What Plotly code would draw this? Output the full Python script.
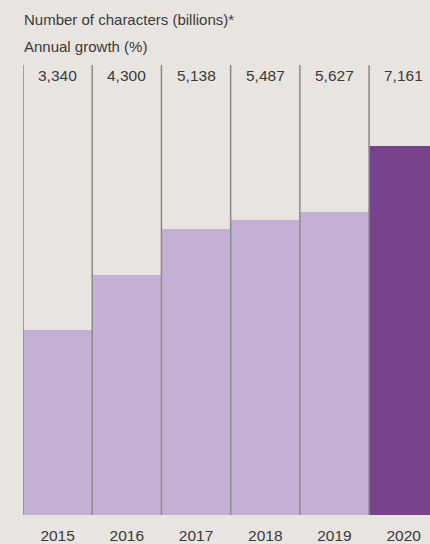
import plotly.graph_objects as go

years = ["2015", "2016", "2017", "2018", "2019", "2020"]
characters_bn = ["3,340", "4,300", "5,138", "5,487", "5,627", "7,161"]
# bar heights (index, 2020 = 100)
bar_index = [50.1, 65.0, 77.5, 79.9, 82.1, 100.0]
bar_colors = ["#C4B0D5"] * 5 + ["#77428C"]

title_1 = "Number of characters (billions)*"
title_2 = "Annual growth (%)"

FONT = "Liberation Sans, Arial, sans-serif"
TXT = "#3a3a3a"
BG = "#E8E4E1"
LINE = "#8E8884"

xs = list(range(len(years)))

fig = go.Figure()
fig.add_trace(go.Bar(
    x=xs, y=bar_index, marker=dict(color=bar_colors, line=dict(width=0)),
    width=1.0, hoverinfo="skip", showlegend=False,
))

shapes = []
for i in xs:
    shapes.append(dict(type="line", xref="x", yref="paper", x0=i - 0.5, x1=i - 0.5,
                       y0=0, y1=1, line=dict(color=LINE, width=1.5), layer="above"))

annotations = []
for i, lab in zip(xs, characters_bn):
    annotations.append(dict(x=i, y=(515 - 75) / 450, xref="x", yref="paper", text=lab,
                            showarrow=False, xanchor="center", yanchor="middle",
                            font=dict(family=FONT, size=15.5, color=TXT)))
annotations.append(dict(x=-1 / 407, y=(515 - 20) / 450, xref="paper", yref="paper", text=title_1,
                        showarrow=False, xanchor="left", yanchor="middle",
                        font=dict(family=FONT, size=15, color=TXT)))
annotations.append(dict(x=-1 / 407, y=(515 - 46) / 450, xref="paper", yref="paper", text=title_2,
                        showarrow=False, xanchor="left", yanchor="middle",
                        font=dict(family=FONT, size=15, color=TXT)))

fig.update_layout(
    width=430, height=544,
    margin=dict(l=23, r=0, t=65, b=29, pad=0),
    paper_bgcolor=BG, plot_bgcolor=BG,
    bargap=0,
    shapes=shapes, annotations=annotations,
    xaxis=dict(range=[-0.5, 5.38], tickvals=xs, ticktext=years, showgrid=False,
               zeroline=False, showline=False, ticks="outside", ticklen=6,
               tickcolor="rgba(0,0,0,0)", tickfont=dict(family=FONT, size=15.5, color=TXT),
               fixedrange=True),
    yaxis=dict(range=[0, 100 * 450 / 369], visible=False, fixedrange=True),
)

fig.write_html(
    "out.html",
    config={"displayModeBar": False},
    post_script="document.body.style.margin='0';document.body.style.overflow='hidden';"
                "document.body.style.background='" + BG + "';",
)
